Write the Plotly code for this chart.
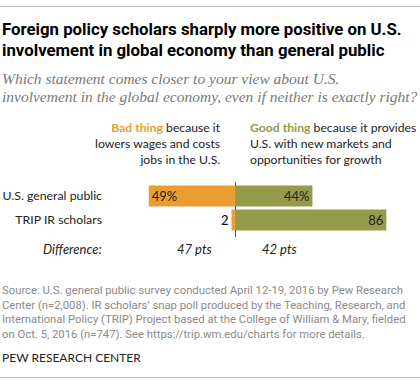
import plotly.graph_objects as go

W, H = 420, 385

categories = ["U.S. general public", "TRIP IR scholars"]
bad_values = [49, 2]
good_values = [44, 86]
bad_labels = ["49%", "2"]
good_labels = ["44%", "86"]
differences = ["47 pts", "42 pts"]

title_lines = ["Foreign policy scholars sharply more positive on U.S.",
               "involvement in global economy than general public"]
subtitle_lines = ["Which statement comes closer to your view about U.S.",
                  "involvement in the global economy, even if neither is exactly right?"]
bad_legend = ["<b style='color:#EA9E2F'>Bad thing</b> because it", "lowers wages and costs", "jobs in the U.S."]
good_legend = ["<b style='color:#949B4A'>Good thing</b> because it provides", "U.S. with new markets and", "opportunities for growth"]
source_lines = ["Source: U.S. general public survey conducted April 12-19, 2016 by Pew Research",
                "Center (n=2,008). IR scholars\u2019 snap poll produced by the Teaching, Research, and",
                "International Policy (TRIP) Project based at the College of William & Mary, fielded",
                "on Oct. 5, 2016 (n=747). See https://trip.wm.edu/charts for more details."]

ORANGE = "#EA9E2F"
GREEN = "#949B4A"
SANS = "Lato, Roboto, sans-serif"
TITLE_FONT = "Roboto, Lato, sans-serif"
SERIF = "Liberation Serif, Georgia, serif"

def py(p):
    return 1 - p / H

def px(p):
    return p / W

# plot area in pixels
x_left, x_zero, scale = 110, 235, 1.76
y_top, y_bot = 182, 237
row0, step = 196, 24

fig = go.Figure()
fig.add_trace(go.Bar(
    y=categories, x=[-v for v in bad_values], orientation="h",
    marker=dict(color=ORANGE, line=dict(width=0)),
    text=bad_labels, textposition=["inside", "outside"], insidetextanchor="end",
    textangle=0, constraintext="none",
    textfont=dict(family=SANS, size=13, color=["#222", "#000"]),
    width=0.875, cliponaxis=False, hoverinfo="skip"))
fig.add_trace(go.Bar(
    y=categories, x=good_values, orientation="h",
    marker=dict(color=GREEN, line=dict(width=0)),
    text=good_labels, textposition="inside", insidetextanchor="end",
    textangle=0, constraintext="none",
    textfont=dict(family=SANS, size=13, color="#222"),
    width=0.875, cliponaxis=False, hoverinfo="skip"))
# empty trace on a full-width frame axis pair, used only for the top/bottom rules
fig.add_trace(go.Scatter(x=[], y=[], xaxis="x2", yaxis="y2", hoverinfo="skip", showlegend=False))

xmin = -(x_zero - x_left) / scale
xmax = (W - x_zero) / scale
ymin_idx = (y_bot - row0) / step
ymax_idx = -(row0 - y_top) / step

fig.update_layout(
    width=W, height=H, margin=dict(l=0, r=0, t=0, b=0),
    paper_bgcolor="white", plot_bgcolor="rgba(0,0,0,0)",
    barmode="relative", showlegend=False,
    xaxis=dict(domain=[px(x_left), 1], range=[xmin, xmax], showgrid=False,
               showticklabels=False, zeroline=True, zerolinecolor="#555",
               zerolinewidth=1, layer="above traces", fixedrange=True),
    yaxis=dict(domain=[py(y_bot), py(y_top)], range=[ymin_idx, ymax_idx],
               showgrid=False, zeroline=False, ticks="", ticklabelstandoff=7,
               tickfont=dict(family=SANS, size=12.3, color="#222"), fixedrange=True),
    xaxis2=dict(domain=[0, 1], anchor="y2", range=[0, 1], showline=True, mirror=True,
                linecolor="#bbbbbb", linewidth=1, showgrid=False, zeroline=False,
                showticklabels=False, ticks="", fixedrange=True),
    yaxis2=dict(domain=[py(377), py(7)], anchor="x2", range=[0, 1], showline=False,
                showgrid=False, zeroline=False, showticklabels=False, ticks="",
                fixedrange=True),
)

ann = []
def text(x, y, s, size, color="#222", family=SANS, xanchor="left", align="left"):
    ann.append(dict(x=px(x), y=py(y), xref="paper", yref="paper", text=s,
                    showarrow=False, xanchor=xanchor, yanchor="middle", align=align,
                    font=dict(family=family, size=size, color=color)))

for i, t in enumerate(title_lines):
    text(0, 29 + 21 * i, "<b>" + t + "</b>", 16.8, "#000", TITLE_FONT)
for i, t in enumerate(subtitle_lines):
    text(0, 78 + 18.5 * i, "<i>" + t + "</i>", 15.5, "#777", SERIF)
text(223, 143, "<br>".join(bad_legend), 12.2, "#222", xanchor="right", align="right")
text(248, 143, "<br>".join(good_legend), 12.2, "#222")
text(104, 249, "<i>Difference:</i>", 13, "#222", xanchor="right")
for xv, d in zip([-23, 25], differences):
    ann.append(dict(x=xv, y=py(249), xref="x", yref="paper", text="<i>" + d + "</i>",
                    showarrow=False, xanchor="center", yanchor="middle",
                    font=dict(family=SANS, size=13, color="#222")))
text(0, 312, "<br>".join(source_lines), 11.3, "#8a8a8a", "Roboto, Lato, sans-serif")
text(0, 357, "PEW RESEARCH CENTER", 12, "#222")
fig.update_layout(annotations=ann)

fig.write_html("out.html", config={"displayModeBar": False},
               post_script="document.body.style.margin='0';")
